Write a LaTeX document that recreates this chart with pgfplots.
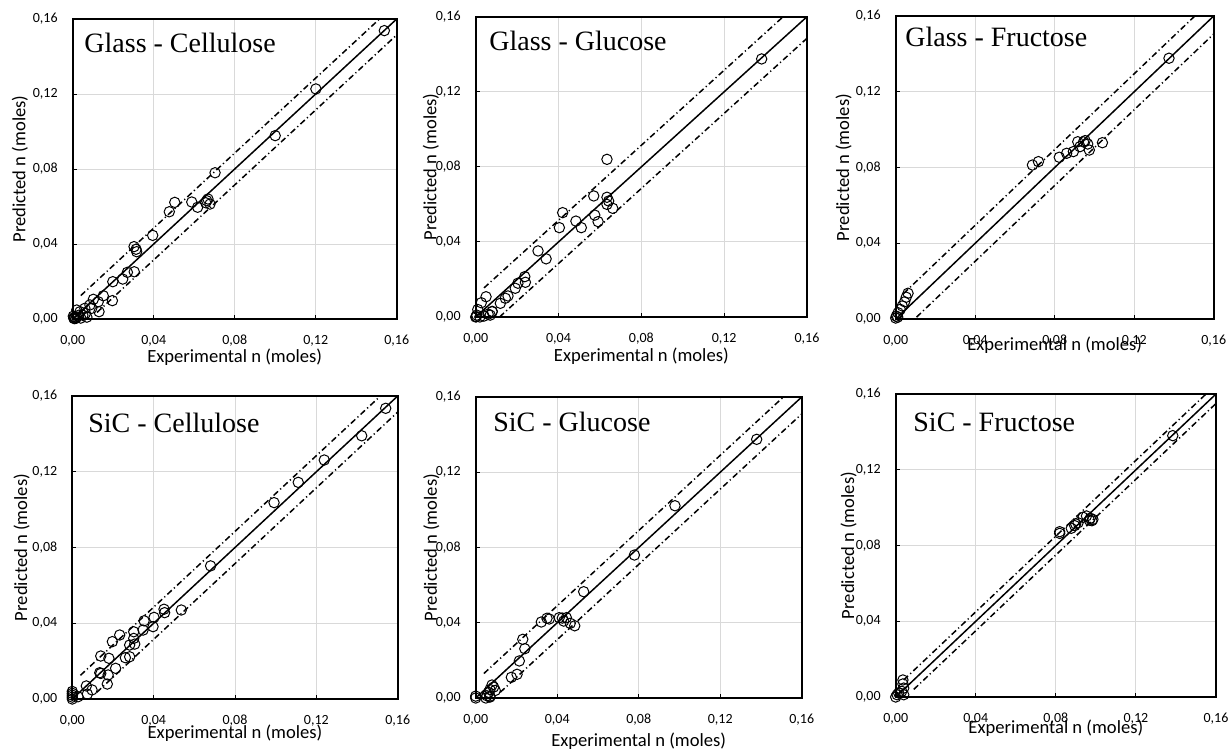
\documentclass[border=0pt]{standalone}
\usepackage{fontspec}
\setmainfont{Carlito}
\newfontfamily\titlefont{Liberation Serif}
\usepackage{pgfplots}
\pgfplotsset{compat=1.18}
\definecolor{gridgray}{RGB}{217,217,217}

\pgfplotsset{
  panel/.style={
    scale only axis, anchor=north west, clip=false,
    xmin=0, xmax=0.16, ymin=0, ymax=0.16,
    xtick={0,0.04,0.08,0.12,0.16}, ytick={0,0.04,0.08,0.12,0.16},
    xticklabels={{0,00},{0,04},{0,08},{0,12},{0,16}},
    yticklabels={{0,00},{0,04},{0,08},{0,12},{0,16}},
    grid=major, major grid style={draw=gridgray, line width=0.5pt},
    axis line style={black, line width=0.9pt},
    tick align=inside, xtick pos=bottom, ytick pos=left,
    major tick length=2pt, tick style={black, line width=0.5pt},
    tick label style={font=\fontsize{7}{8}\selectfont},
    xticklabel style={yshift=-4.5pt},
    yticklabel style={xshift=-4pt},
    label style={font=\fontsize{9.3}{11}\selectfont},
    xlabel={Experimental n (moles)},
    ylabel={Predicted n (moles)},
  },
  pts/.style={only marks, mark=o, mark size=2.6pt, mark options={line width=0.5pt, black}},
  fit/.style={black, line width=0.75pt, no marks},
  band/.style={black, line width=0.75pt, no marks, dash pattern=on 3pt off 1.5pt on 0.6pt off 1.5pt},
}
\tikzset{ttl/.style={anchor=base west, inner sep=0pt, font=\titlefont\fontsize{14}{16}\selectfont}}

\begin{document}
\begin{tikzpicture}
\path[use as bounding box] (0,0) rectangle (615.5pt,-375pt);

% Glass - Cellulose
\begin{axis}[panel, at={(36.35pt,-9.5pt)}, width=162pt, height=150pt,
  xlabel style={at={(axis description cs:0.5,-0.127)}, anchor=center},
  ylabel style={at={(axis description cs:-0.163,0.5)}, anchor=center}]
\addplot[fit] coordinates {(0,0) (0.16,0.16)};
\addplot[band] coordinates {(0.004,0.0125) (0.1515,0.16)};
\addplot[band] coordinates {(0.012,0.0035) (0.16,0.1515)};
\addplot[pts] coordinates {
(0.1539,0.1538) (0.1201,0.1227) (0.1000,0.0978) (0.0703,0.0780) (0.0504,0.0622)
(0.0477,0.0572) (0.0588,0.0624) (0.0617,0.0596) (0.0662,0.0631) (0.0668,0.0640)
(0.0678,0.0613) (0.0657,0.0620) (0.0395,0.0446) (0.0303,0.0386) (0.0313,0.0372)
(0.0316,0.0359) (0.0304,0.0252) (0.0270,0.0249) (0.0247,0.0213) (0.0198,0.0199)
(0.0196,0.0098) (0.0151,0.0124) (0.0126,0.0092) (0.0130,0.0039) (0.0102,0.0105)
(0.0085,0.0075) (0.0094,0.0057) (0.0060,0.0057) (0.0063,0.0030) (0.0036,0.0039)
(0.0020,0.0048) (0.0070,0.0010) (0.0050,0.0020) (0.0030,0.0020) (0.0020,0.0010)
(0.0015,0.0003) (0.0010,0.0010) (0.0005,0.0005) (0.0003,0.0015) (0.0008,0.0002)
(0.0040,0.0005)};
\node[ttl] at (rel axis cs:0.035,0.89) {Glass - Cellulose};
\end{axis}

% Glass - Glucose
\begin{axis}[panel, at={(237.85pt,-8.35pt)}, width=165.65pt, height=150.15pt,
  xlabel style={at={(axis description cs:0.5,-0.13)}, anchor=center},
  ylabel style={at={(axis description cs:-0.135,0.5)}, anchor=center}]
\addplot[fit] coordinates {(0,0) (0.16,0.16)};
\addplot[band] coordinates {(0.004,0.0155) (0.1485,0.16)};
\addplot[band] coordinates {(0.0115,0) (0.16,0.1485)};
\addplot[pts] coordinates {
(0.1381,0.1375) (0.0634,0.0840) (0.0570,0.0645) (0.0634,0.0638) (0.0642,0.0618)
(0.0634,0.0600) (0.0662,0.0579) (0.0575,0.0543) (0.0591,0.0508) (0.0420,0.0556)
(0.0404,0.0476) (0.0484,0.0511) (0.0510,0.0476) (0.0301,0.0352) (0.0340,0.0310)
(0.0237,0.0215) (0.0240,0.0185) (0.0204,0.0180) (0.0191,0.0153) (0.0156,0.0112)
(0.0143,0.0100) (0.0119,0.0073) (0.0050,0.0108) (0.0027,0.0076) (0.0079,0.0028)
(0.0070,0.0010) (0.0010,0.0040) (0.0005,0.0010) (0.0000,0.0000) (0.0020,0.0000)
(0.0040,0.0005) (0.0060,0.0015) (0.0080,0.0030) (0.0003,0.0002)};
\node[ttl] at (rel axis cs:0.040,0.889) {Glass - Glucose};
\end{axis}

% Glass - Fructose
\begin{axis}[panel, at={(447.85pt,-8pt)}, width=159pt, height=151.5pt,
  xlabel style={at={(axis description cs:0.5,-0.086)}, anchor=center},
  ylabel style={at={(axis description cs:-0.164,0.5)}, anchor=center}]
\addplot[fit] coordinates {(0,0) (0.16,0.16)};
\addplot[band] coordinates {(0.004,0.0135) (0.1505,0.16)};
\addplot[band] coordinates {(0.0105,0.001) (0.16,0.1505)};
\addplot[pts] coordinates {
(0.1375,0.1377) (0.1040,0.0931) (0.0916,0.0936) (0.0953,0.0942) (0.0966,0.0924)
(0.0974,0.0892) (0.0927,0.0910) (0.0894,0.0884) (0.0860,0.0875) (0.0823,0.0854)
(0.0718,0.0831) (0.0688,0.0813) (0.0945,0.0935) (0.0062,0.0136) (0.0053,0.0115)
(0.0045,0.0091) (0.0033,0.0069) (0.0023,0.0051) (0.0012,0.0033) (0.0003,0.0015)
(0.0000,0.0005) (0.0010,0.0010)};
\node[ttl] at (rel axis cs:0.029,0.898) {Glass - Fructose};
\end{axis}

% SiC - Cellulose
\begin{axis}[panel, at={(36.15pt,-198pt)}, width=162.7pt, height=151.5pt,
  xlabel style={at={(axis description cs:0.5,-0.112)}, anchor=center},
  ylabel style={at={(axis description cs:-0.156,0.5)}, anchor=center}]
\addplot[fit] coordinates {(0,0) (0.16,0.16)};
\addplot[band] coordinates {(0.004,0.0125) (0.1515,0.16)};
\addplot[band] coordinates {(0.012,0.0035) (0.16,0.1515)};
\addplot[pts] coordinates {
(0.1541,0.1535) (0.1423,0.1390) (0.1239,0.1262) (0.1111,0.1144) (0.0992,0.1037)
(0.0680,0.0703) (0.0536,0.0470) (0.0451,0.0474) (0.0454,0.0456) (0.0402,0.0431)
(0.0397,0.0382) (0.0353,0.0413) (0.0348,0.0364) (0.0302,0.0355) (0.0302,0.0320)
(0.0307,0.0290) (0.0282,0.0285) (0.0282,0.0223) (0.0261,0.0218) (0.0233,0.0338)
(0.0197,0.0303) (0.0180,0.0215) (0.0140,0.0227) (0.0213,0.0162) (0.0135,0.0139)
(0.0140,0.0135) (0.0176,0.0127) (0.0172,0.0079) (0.0069,0.0069) (0.0097,0.0048)
(0.0074,0.0026) (0.0028,0.0012) (0.0000,0.0030) (0.0000,0.0040) (0.0000,0.0020)
(0.0000,0.0010) (0.0000,0.0000)};
\node[ttl] at (rel axis cs:0.048,0.878) {SiC - Cellulose};
\end{axis}

% SiC - Glucose
\begin{axis}[panel, at={(237.85pt,-198.5pt)}, width=163pt, height=150.5pt,
  xlabel style={at={(axis description cs:0.5,-0.143)}, anchor=center},
  ylabel style={at={(axis description cs:-0.136,0.5)}, anchor=center}]
\addplot[fit] coordinates {(0,0) (0.16,0.16)};
\addplot[band] coordinates {(0.004,0.013) (0.151,0.16)};
\addplot[band] coordinates {(0.012,0.003) (0.16,0.151)};
\addplot[pts] coordinates {
(0.1379,0.1375) (0.0978,0.1022) (0.0779,0.0760) (0.0530,0.0565) (0.0322,0.0404)
(0.0350,0.0424) (0.0361,0.0420) (0.0410,0.0427) (0.0432,0.0409) (0.0445,0.0427)
(0.0464,0.0397) (0.0486,0.0384) (0.0425,0.0425) (0.0231,0.0312) (0.0241,0.0262)
(0.0214,0.0197) (0.0203,0.0126) (0.0175,0.0110) (0.0080,0.0069) (0.0088,0.0058)
(0.0070,0.0045) (0.0096,0.0040) (0.0063,0.0030) (0.0055,0.0012) (0.0070,0.0010)
(0.0000,0.0010) (0.0000,0.0000) (0.0050,0.0000) (0.0070,0.0005)};
\node[ttl] at (rel axis cs:0.053,0.884) {SiC - Glucose};
\end{axis}

% SiC - Fructose
\begin{axis}[panel, at={(447.85pt,-197pt)}, width=160.15pt, height=151.5pt,
  xlabel style={at={(axis description cs:0.5,-0.102)}, anchor=center},
  ylabel style={at={(axis description cs:-0.147,0.5)}, anchor=center}]
\addplot[fit] coordinates {(0,0) (0.16,0.16)};
\addplot[band] coordinates {(0.004,0.009) (0.155,0.16)};
\addplot[band] coordinates {(0.009,0.004) (0.16,0.155)};
\addplot[pts] coordinates {
(0.1384,0.1380) (0.0819,0.0873) (0.0819,0.0864) (0.0877,0.0891) (0.0899,0.0914)
(0.0894,0.0905) (0.0911,0.0920) (0.0936,0.0949) (0.0953,0.0956) (0.0972,0.0944)
(0.0980,0.0931) (0.0967,0.0934) (0.0985,0.0938) (0.0036,0.0090) (0.0036,0.0069)
(0.0040,0.0047) (0.0030,0.0030) (0.0015,0.0021) (0.0007,0.0012) (0.0040,0.0012)
(0.0000,0.0000)};
\node[ttl] at (rel axis cs:0.054,0.875) {SiC - Fructose};
\end{axis}
\end{tikzpicture}
\end{document}
